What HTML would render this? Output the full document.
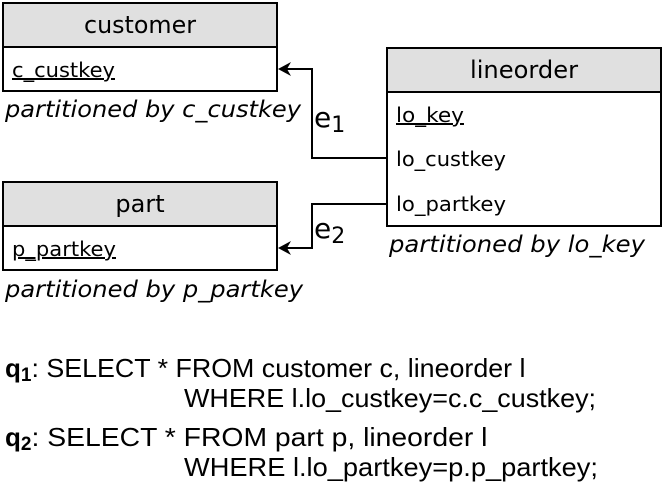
<!DOCTYPE html>
<html><head><meta charset="utf-8"><style>
html,body{margin:0;padding:0;background:#fff;}
svg{display:block;}
</style></head><body>
<svg width="664" height="489" viewBox="0 0 664 489" xmlns="http://www.w3.org/2000/svg">
<g stroke="#000" stroke-width="2">
<rect x="3" y="3" width="274" height="44" fill="#e0e0e0"/>
<rect x="3" y="47" width="274" height="44" fill="#fff"/>
<rect x="3" y="182" width="274" height="44" fill="#e0e0e0"/>
<rect x="3" y="226" width="274" height="44" fill="#fff"/>
<rect x="387" y="48" width="274" height="44" fill="#e0e0e0"/>
<rect x="387" y="92" width="274" height="134" fill="#fff"/>
<polyline points="387,158 312,158 312,69 284,69" fill="none"/>
<polyline points="387,204 312,204 312,248 284,248" fill="none"/>
</g>
<polygon points="278,69 291,62 287,69 291,76" fill="#000"/>
<polygon points="278,248 291,241 287,248 291,255" fill="#000"/>
<g style="font-family:'DejaVu Sans',sans-serif;fill:#000">
<text x="140" y="33" style="font-size:24px" text-anchor="middle" textLength="112" lengthAdjust="spacingAndGlyphs">customer</text>
<text x="12" y="77" style="font-size:20px" text-decoration="underline" textLength="103" lengthAdjust="spacingAndGlyphs">c_custkey</text>
<text x="5" y="117" style="font-size:23px;font-style:italic" textLength="296" lengthAdjust="spacingAndGlyphs">partitioned by c_custkey</text>
<text x="140" y="212" style="font-size:24px" text-anchor="middle">part</text>
<text x="12" y="256" style="font-size:20px" text-decoration="underline" textLength="104" lengthAdjust="spacingAndGlyphs">p_partkey</text>
<text x="5" y="297" style="font-size:23px;font-style:italic" textLength="298" lengthAdjust="spacingAndGlyphs">partitioned by p_partkey</text>
<text x="524" y="78" style="font-size:24px" text-anchor="middle" textLength="108" lengthAdjust="spacingAndGlyphs">lineorder</text>
<text x="396" y="122" style="font-size:20px" text-decoration="underline" textLength="68" lengthAdjust="spacingAndGlyphs">lo_key</text>
<text x="396" y="166" style="font-size:20px" textLength="110" lengthAdjust="spacingAndGlyphs">lo_custkey</text>
<text x="396" y="211" style="font-size:20px" textLength="110" lengthAdjust="spacingAndGlyphs">lo_partkey</text>
<text x="389" y="252" style="font-size:23px;font-style:italic" textLength="256" lengthAdjust="spacingAndGlyphs">partitioned by lo_key</text>
<text x="314" y="127" style="font-size:28px">e<tspan style="font-size:22px" dy="5">1</tspan></text>
<text x="314" y="238" style="font-size:28px">e<tspan style="font-size:22px" dy="5">2</tspan></text>
</g>
<g style="font-family:'Liberation Sans',sans-serif;font-size:26px;fill:#000">
<text x="5" y="377"><tspan style="font-weight:bold">q</tspan><tspan style="font-weight:bold;font-size:19px" dy="4">1</tspan><tspan dy="-4" textLength="494" lengthAdjust="spacingAndGlyphs">: SELECT * FROM customer c, lineorder l</tspan></text>
<text x="184" y="407" textLength="412" lengthAdjust="spacingAndGlyphs">WHERE l.lo_custkey=c.c_custkey;</text>
<text x="5" y="446"><tspan style="font-weight:bold">q</tspan><tspan style="font-weight:bold;font-size:19px" dy="4">2</tspan><tspan dy="-4" textLength="456" lengthAdjust="spacingAndGlyphs">: SELECT * FROM part p, lineorder l</tspan></text>
<text x="184" y="476" textLength="414" lengthAdjust="spacingAndGlyphs">WHERE l.lo_partkey=p.p_partkey;</text>
</g>
</svg>
</body></html>
